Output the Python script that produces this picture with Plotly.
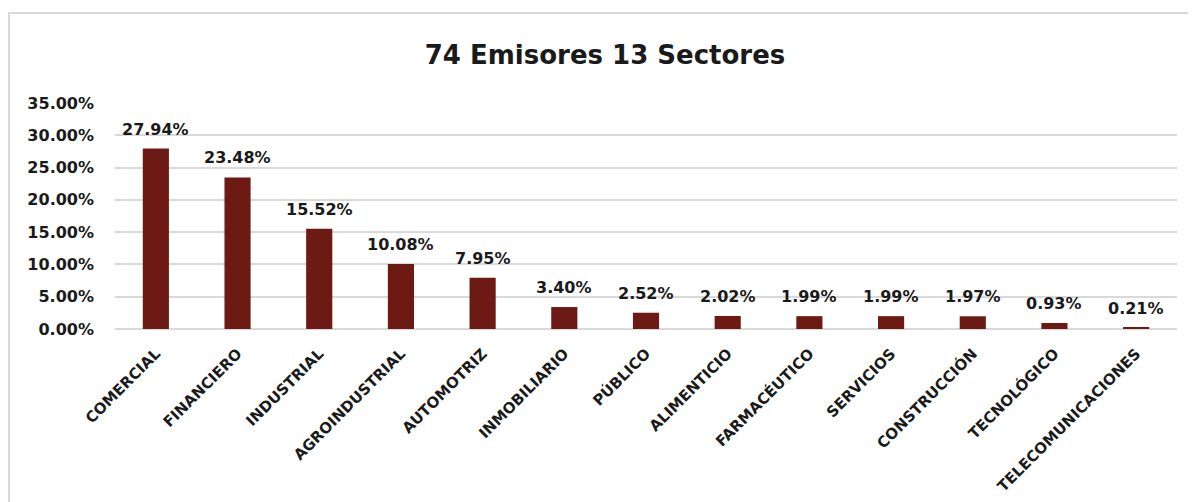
import plotly.graph_objects as go

categories = ["COMERCIAL", "FINANCIERO", "INDUSTRIAL", "AGROINDUSTRIAL", "AUTOMOTRIZ",
              "INMOBILIARIO", "PÚBLICO", "ALIMENTICIO", "FARMACÉUTICO", "SERVICIOS",
              "CONSTRUCCIÓN", "TECNOLÓGICO", "TELECOMUNICACIONES"]
values = [0.2794, 0.2348, 0.1552, 0.1008, 0.0795, 0.0340, 0.0252, 0.0202,
          0.0199, 0.0199, 0.0197, 0.0093, 0.0021]
title_text = "74 Emisores 13 Sectores"

FONT = "DejaVu Sans"
OFF = 8  # page offset of the figure
W, H = 1196 - OFF, 502 - OFF
L, R, T, B = 115 - OFF, 1196 - 1177, 103 - OFF, 502 - 329
pw, ph = W - L - R, H - T - B

def px2x(p):
    return (p - OFF - L) / pw

def py2y(p):
    return (H - B - (p - OFF)) / ph

fig = go.Figure(go.Bar(
    x=categories, y=values,
    marker=dict(color="#6C1A13", line=dict(width=0)),
    width=0.32,
    hoverinfo="x+y",
))

for c, v in zip(categories, values):
    fig.add_annotation(x=c, y=v, text=f"<b>{v*100:.2f}%</b>", showarrow=False,
                       yanchor="bottom", yshift=8,
                       font=dict(family=FONT, size=16, color="#1a1a1a"))

fig.update_layout(
    width=W, height=H,
    margin=dict(l=L, r=R, t=T, b=B, autoexpand=False),
    paper_bgcolor="white", plot_bgcolor="white",
    showlegend=False,
    title=dict(text=f"<b>{title_text}</b>", x=(605 - OFF) / W, xref="container", xanchor="center",
               y=1 - (55 - OFF) / H, yref="container", yanchor="middle",
               font=dict(family=FONT, size=26, color="#1a1a1a")),
    xaxis=dict(tickangle=-45, tickfont=dict(family=FONT, size=15, color="#1a1a1a", weight="bold"),
               showgrid=False, showline=False, ticks="", ticklabelstandoff=12, automargin=False),
    yaxis=dict(range=[0, 0.35], dtick=0.05, tickformat=".2%",
               tickfont=dict(family=FONT, size=16, color="#1a1a1a", weight="bold"),
               showgrid=True, gridcolor="#d9d9d9", gridwidth=2,
               zeroline=True, zerolinecolor="#d9d9d9", zerolinewidth=2,
               showline=False, ticks="", ticklabelstandoff=20, automargin=False),
    shapes=[dict(type="rect", xref="paper", yref="paper",
                 x0=px2x(OFF + 1), x1=px2x(1210), y0=py2y(520), y1=py2y(13),
                 line=dict(color="#d9d9d9", width=2), fillcolor="rgba(0,0,0,0)", layer="below")],
)

fig.write_html("out.html")
